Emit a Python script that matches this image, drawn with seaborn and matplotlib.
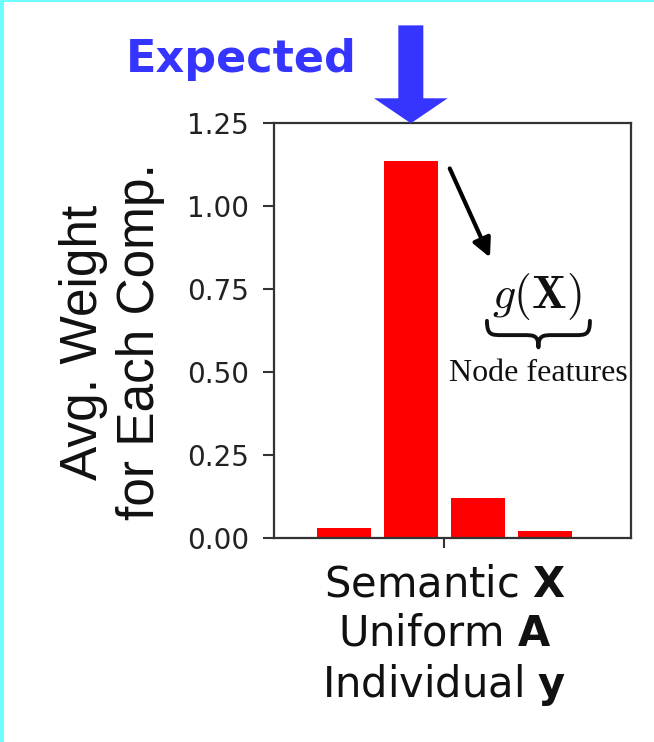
import matplotlib
matplotlib.use("Agg")
import matplotlib.pyplot as plt
from matplotlib.patches import Rectangle, PathPatch
from matplotlib.path import Path
import seaborn as sns
import pandas as pd

# average weight per component
components = ["Comp. 1", "Comp. 2", "Comp. 3", "Comp. 4"]
weights = [0.030, 1.135, 0.121, 0.023]
group_label = "Semantic $\\mathbf{X}$\nUniform $\\mathbf{A}$\nIndividual $\\mathbf{y}$"
yticks = [0.00, 0.25, 0.50, 0.75, 1.00, 1.25]

df = pd.DataFrame({"group": [group_label] * len(components),
                   "component": components,
                   "weight": weights})

sns.set_style("white")
plt.rcParams["font.family"] = ["DejaVu Sans"]

W, H = 654, 742
fig = plt.figure(figsize=(W / 100, H / 100), dpi=100)
ax = fig.add_axes([274 / W, 1 - 538.3 / H, (630.5 - 274) / W, (538.3 - 123.3) / H])

sns.barplot(data=df, x="group", y="weight", hue="component",
            palette=["#ff0000"] * len(components), width=0.8, gap=0.2,
            legend=False, ax=ax, saturation=1)
for p in ax.patches:
    p.set_edgecolor("none")

ax.set_xlim(-0.508, 0.555)
ax.set_ylim(0, 1.25)
ax.set_yticks(yticks)
ax.set_yticklabels([f"{v:.2f}" for v in yticks], fontsize=20, color="#222222")
ax.tick_params(axis="x", labelsize=30, length=7, width=1.5, color="#333333",
               direction="out", bottom=True, pad=11)
ax.tick_params(axis="y", length=8, width=1.5, color="#333333",
               direction="out", left=True, pad=10)
for lab in ax.get_xticklabels():
    lab.set_linespacing(1.22)
    lab.set_color("#111111")
ax.set_xlabel("")
ax.set_ylabel("Avg. Weight\nfor Each Comp.", fontsize=37,
              family=["Liberation Sans"], linespacing=1.22, color="#111111")
ax.yaxis.set_label_coords(-0.305, 0.473)
for s in ax.spines.values():
    s.set_visible(True)
    s.set_color("#333333")
    s.set_linewidth(1.6)

# bar position of the dominant component
bar2 = ax.patches[1]
x2 = bar2.get_x() + bar2.get_width() / 2

# big "Expected" arrow pointing at the top of the axes
blue = "#3535ff"
ax.annotate("", xy=(x2, 1.25), xytext=(x2, 1.545), xycoords="data",
            annotation_clip=False,
            arrowprops=dict(arrowstyle="simple,head_length=18,head_width=53,tail_width=18",
                            mutation_scale=1, fc=blue, ec=blue, lw=0,
                            shrinkA=0, shrinkB=0))
fig.text(357 / W, 1 - 72 / H, "Expected", ha="right", va="baseline",
         fontsize=32, fontweight="bold", family=["DejaVu Sans"], color=blue)

# black arrow from the tall bar towards g(X)
ax.annotate("", xy=(0.136, 0.846), xytext=(0.016, 1.114), xycoords="data",
            arrowprops=dict(arrowstyle="-|>", mutation_scale=28, lw=3,
                            color="black", shrinkA=0, shrinkB=0))

plt.rcParams["mathtext.fontset"] = "cm"
ax.text(0.277, 0.727, "$g(\\mathbf{X})$", ha="center", va="center",
        fontsize=33, color="#111111")

# underbrace below g(X)
x0, x1 = 0.127, 0.434
xc = (x0 + x1) / 2
yt, ym, yb = 0.655, 0.612, 0.575
dx = 0.045
verts = [(x0, yt), (x0, ym), (x0 + dx * 0.3, ym), (x0 + dx, ym),
         (xc - dx, ym), (xc - dx * 0.3, ym), (xc, ym), (xc, yb),
         (xc, ym), (xc + dx * 0.3, ym), (xc + dx, ym),
         (x1 - dx, ym), (x1 - dx * 0.3, ym), (x1, ym), (x1, yt)]
codes = [Path.MOVETO, Path.CURVE4, Path.CURVE4, Path.CURVE4,
         Path.LINETO, Path.CURVE4, Path.CURVE4, Path.CURVE4,
         Path.CURVE4, Path.CURVE4, Path.CURVE4,
         Path.LINETO, Path.CURVE4, Path.CURVE4, Path.CURVE4]
ax.add_patch(PathPatch(Path(verts, codes), fc="none", ec="#111111", lw=2.8,
                       capstyle="round", joinstyle="round"))

ax.text(0.279, 0.497, "Node features", ha="center", va="center",
        fontsize=23, family=["Liberation Serif"], color="#111111")

# cyan frame on the left and top edges
fig.patches.append(Rectangle((0, 0), 3.5 / W, 1, transform=fig.transFigure,
                             fc="#70ffff", ec="none", zorder=10))
fig.patches.append(Rectangle((0, 1 - 2 / H), 1, 2 / H, transform=fig.transFigure,
                             fc="#70ffff", ec="none", zorder=10))

fig.savefig("out.png", dpi=100)
